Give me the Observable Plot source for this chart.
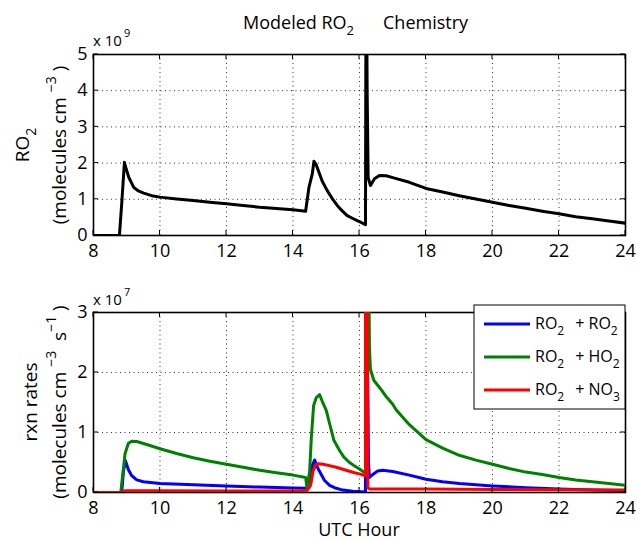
<!DOCTYPE html>
<html><head><meta charset="utf-8">
<script src="https://cdn.jsdelivr.net/npm/d3@7"></script>
<script src="https://cdn.jsdelivr.net/npm/@observablehq/plot@0.6"></script>
<style>
body{margin:0;background:#fff;overflow:hidden;}
#wrap{position:relative;width:636px;height:540px;background:#fff;}
#wrap svg{display:block;}
</style></head><body><div id="wrap"></div>
<script>
// ---------- DATA ----------
// Top panel: modeled RO2 concentration (x 1e9 molecules cm^-3)
const hoursRO2 = [8, 8.78, 8.85, 8.93, 8.98, 9.06, 9.21, 9.35, 9.51, 9.75, 10.0, 10.5, 11.0, 11.5, 12.0, 12.5, 13.0, 13.5, 14.0, 14.38, 14.43, 14.48, 14.58, 14.63, 14.7, 14.78, 14.88, 15.03, 15.18, 15.33, 15.48, 15.63, 15.8, 15.93, 16.05, 16.18, 16.2, 16.23, 16.26, 16.33, 16.45, 16.6, 16.8, 17.0, 17.5, 18.0, 18.5, 19.0, 19.5, 20.0, 20.5, 21.0, 21.5, 22.0, 22.5, 23.0, 23.5, 24.0];
const ro2 = [0, 0, 0.9, 2.02, 1.85, 1.61, 1.33, 1.23, 1.17, 1.1, 1.06, 1.01, 0.97, 0.92, 0.875, 0.83, 0.78, 0.745, 0.71, 0.67, 1.0, 1.33, 1.7, 2.05, 1.95, 1.75, 1.5, 1.24, 1.02, 0.83, 0.68, 0.55, 0.47, 0.41, 0.36, 0.3, 9, 4, 1.6, 1.38, 1.57, 1.66, 1.65, 1.6, 1.47, 1.3, 1.2, 1.1, 1.01, 0.92, 0.83, 0.75, 0.67, 0.6, 0.52, 0.46, 0.4, 0.34];

// Bottom panel: reaction rates (x 1e7 molecules cm^-3 s^-1)
const hoursRR = [8, 8.85, 8.9, 8.96, 9.05, 9.15, 9.3, 9.5, 10, 11, 12, 13, 14, 14.4, 14.5, 14.58, 14.65, 14.75, 14.85, 14.95, 15.1, 15.25, 15.5, 15.8, 16.18, 16.2, 16.27, 16.3, 16.4, 16.55, 16.7, 17, 17.5, 18, 18.5, 19, 19.5, 20, 21, 22, 23, 24];
const rateRR = [0, 0, 0.35, 0.53, 0.38, 0.28, 0.21, 0.18, 0.15, 0.13, 0.11, 0.09, 0.075, 0.07, 0.2, 0.45, 0.54, 0.4, 0.3, 0.2, 0.12, 0.08, 0.04, 0.02, 0.01, 5, 0.5, 0.25, 0.3, 0.36, 0.37, 0.35, 0.29, 0.22, 0.18, 0.15, 0.13, 0.11, 0.08, 0.06, 0.04, 0.03];

const hoursRH = [8, 8.82, 8.88, 8.95, 9.05, 9.15, 9.3, 9.6, 10, 10.5, 11, 11.5, 12, 12.5, 13, 13.5, 14, 14.38, 14.42, 14.5, 14.55, 14.62, 14.7, 14.8, 14.88, 15.0, 15.1, 15.23, 15.4, 15.53, 15.7, 15.83, 16.0, 16.13, 16.18, 16.2, 16.3, 16.33, 16.43, 16.63, 16.8, 17.0, 17.1, 17.5, 18, 18.5, 19, 19.5, 20, 20.5, 21, 21.5, 22, 22.5, 23, 23.5, 24];
const rateRH = [0, 0, 0.3, 0.65, 0.82, 0.855, 0.85, 0.8, 0.73, 0.65, 0.58, 0.52, 0.47, 0.42, 0.37, 0.33, 0.29, 0.25, 0.08, 0.35, 0.9, 1.45, 1.58, 1.63, 1.52, 1.37, 1.15, 0.87, 0.7, 0.59, 0.5, 0.45, 0.39, 0.34, 0.32, 8, 2.4, 2.05, 1.87, 1.73, 1.6, 1.47, 1.38, 1.13, 0.88, 0.74, 0.62, 0.54, 0.47, 0.4, 0.34, 0.3, 0.25, 0.21, 0.18, 0.15, 0.12];

const hoursRN = [8, 8.88, 8.95, 10, 12, 14, 14.4, 14.45, 14.53, 14.6, 14.68, 14.75, 14.9, 15.0, 15.3, 15.6, 15.85, 16.0, 16.18, 16.2, 16.25, 16.3, 17, 18, 19, 20, 22, 24];
const rateRN = [0, 0, 0.03, 0.03, 0.025, 0.025, 0.025, 0.05, 0.12, 0.35, 0.46, 0.48, 0.47, 0.46, 0.42, 0.37, 0.33, 0.31, 0.28, 10, 0.08, 0.06, 0.06, 0.06, 0.055, 0.05, 0.045, 0.04];

const xTicks = [8, 10, 12, 14, 16, 18, 20, 22, 24];
const yTicksTop = [0, 1, 2, 3, 4, 5];
const yTicksBot = [0, 1, 2, 3];
const seriesPartner = ["RO", "HO", "NO"];
const seriesPartnerSub = ["2", "2", "3"];
const seriesColors = ["#0000ff", "#008000", "#ff0000"];

// ---------- BUILD ----------
const FONT = '"Open Sans", sans-serif';
const W = 636, ML = 93, MR = 11;

const toRows = (hs, vs) => hs.map((h, i) => ({h, v: vs[i]}));

function panel({height, marginTop, marginBottom, yDomain, yTicks, lines}) {
  const svg = Plot.plot({
    width: W, height, marginLeft: ML, marginRight: MR, marginTop, marginBottom,
    style: {fontFamily: FONT, fontSize: "18px", color: "#000", background: "#fff", overflow: "visible"},
    x: {domain: [8, 24], label: null},
    y: {domain: yDomain, label: null},
    marks: [
      Plot.gridX(xTicks.slice(1, -1), {stroke: "#000", strokeOpacity: 0.8, strokeWidth: 1, strokeDasharray: "1,3.5"}),
      Plot.gridY(yTicks.slice(1, -1), {stroke: "#000", strokeOpacity: 0.8, strokeWidth: 1, strokeDasharray: "1,3.5"}),
      Plot.frame({stroke: "#000", strokeWidth: 1.6}),
      ...lines.map(l => Plot.line(toRows(l.h, l.v), {x: "h", y: "v", stroke: l.color, strokeWidth: l.width, clip: true, curve: "linear"})),
      Plot.axisX(xTicks, {tickSize: 0, tickPadding: 9, label: null, tickFormat: d => String(d), fontSize: 18}),
      Plot.axisY(yTicks, {tickSize: 0, tickPadding: 6, label: null, tickFormat: d => String(d), fontSize: 18})
    ]
  });
  // inward ticks on all four sides, placed with the plot's own scales
  const sx = svg.scale("x"), sy = svg.scale("y");
  const g = d3.select(svg).append("g").attr("stroke", "#000").attr("stroke-width", 1);
  const top = marginTop, bot = height - marginBottom, left = ML, right = W - MR;
  for (const t of xTicks) {
    const x = sx.apply(t);
    g.append("line").attr("x1", x).attr("x2", x).attr("y1", bot).attr("y2", bot - 5);
    g.append("line").attr("x1", x).attr("x2", x).attr("y1", top).attr("y2", top + 5);
  }
  for (const t of yTicks) {
    const y = sy.apply(t);
    g.append("line").attr("y1", y).attr("y2", y).attr("x1", left).attr("x2", left + 5);
    g.append("line").attr("y1", y).attr("y2", y).attr("x1", right).attr("x2", right - 5);
  }
  return svg;
}

const wrap = document.getElementById("wrap");

// Top panel
const topSvg = panel({
  height: 270, marginTop: 54, marginBottom: 35, yDomain: [0, 5], yTicks: yTicksTop,
  lines: [{h: hoursRO2, v: ro2, color: "#000", width: 3}]
});
wrap.appendChild(topSvg);

// Bottom panel
const botSvg = panel({
  height: 270, marginTop: 42, marginBottom: 48, yDomain: [0, 3], yTicks: yTicksBot,
  lines: [
    {h: hoursRR, v: rateRR, color: seriesColors[0], width: 3},
    {h: hoursRH, v: rateRH, color: seriesColors[1], width: 3},
    {h: hoursRN, v: rateRN, color: seriesColors[2], width: 3}
  ]
});
wrap.appendChild(botSvg);

// ---------- TEXT ----------
const T = d3.select(topSvg), B = d3.select(botSvg);
function txt(sel, size, anchor) {
  return sel.append("text").attr("font-family", FONT).attr("font-size", size)
    .attr("fill", "#000").attr("text-anchor", anchor || "start").style("white-space", "pre");
}

// Title
{
  const t = txt(T, 18).attr("x", 243).attr("y", 29);
  t.append("tspan").text("Modeled RO");
  t.append("tspan").attr("font-size", 13).attr("dy", 6).text("2");
  t.append("tspan").attr("x", 383).attr("dy", -6).text("Chemistry");
}
// exponent labels
function expLabel(sel, y, e) {
  const t = txt(sel, 15).attr("x", ML).attr("y", y);
  t.append("tspan").text("x 10");
  t.append("tspan").attr("font-size", 11).attr("dx", 2).attr("dy", -9).text(e);
}
expLabel(T, 46, "9");
expLabel(B, 35, "7");

// Y labels
function rotLabel(sel, x, cy, build) {
  const t = txt(sel, 19, "middle").attr("transform", `translate(${x},${cy}) rotate(-90)`);
  build(t);
}
rotLabel(T, 29, 145, t => {
  t.append("tspan").text("RO");
  t.append("tspan").attr("font-size", 14).attr("dy", 7).text("2");
});
rotLabel(T, 66, 145, t => {
  t.append("tspan").text("(molecules cm ");
  t.append("tspan").attr("font-size", 14).attr("dy", -10).text("\u22123");
  t.append("tspan").attr("dy", 10).text(" )");
});
rotLabel(B, 37, 132, t => t.text("rxn rates"));
rotLabel(B, 66, 132, t => {
  t.append("tspan").text("(molecules cm ");
  t.append("tspan").attr("font-size", 14).attr("dy", -10).text("\u22123");
  t.append("tspan").attr("dy", 10).text("  s");
  t.append("tspan").attr("font-size", 14).attr("dy", -10).text("\u22121");
  t.append("tspan").attr("dy", 10).text(" )");
});

// X label
txt(B, 18, "middle").attr("x", (ML + W - MR) / 2).attr("y", 266).text("UTC Hour");

// Legend
{
  const L = B.append("g");
  L.append("rect").attr("x", 474).attr("y", 35).attr("width", 151).attr("height", 104)
    .attr("fill", "#fff").attr("stroke", "#000").attr("stroke-width", 1);
  seriesPartner.forEach((p, i) => {
    const y = 54 + i * 33;
    L.append("line").attr("x1", 484).attr("x2", 530).attr("y1", y).attr("y2", y)
      .attr("stroke", seriesColors[i]).attr("stroke-width", 3);
    const t = txt(L, 16).attr("x", 535).attr("y", y + 5);
    t.append("tspan").text("RO");
    t.append("tspan").attr("font-size", 12).attr("dy", 6).text("2");
    t.append("tspan").attr("dx", 11).attr("dy", -6).text("+ " + p);
    t.append("tspan").attr("font-size", 12).attr("dy", 6).text(seriesPartnerSub[i]);
  });
}
</script></body></html>
